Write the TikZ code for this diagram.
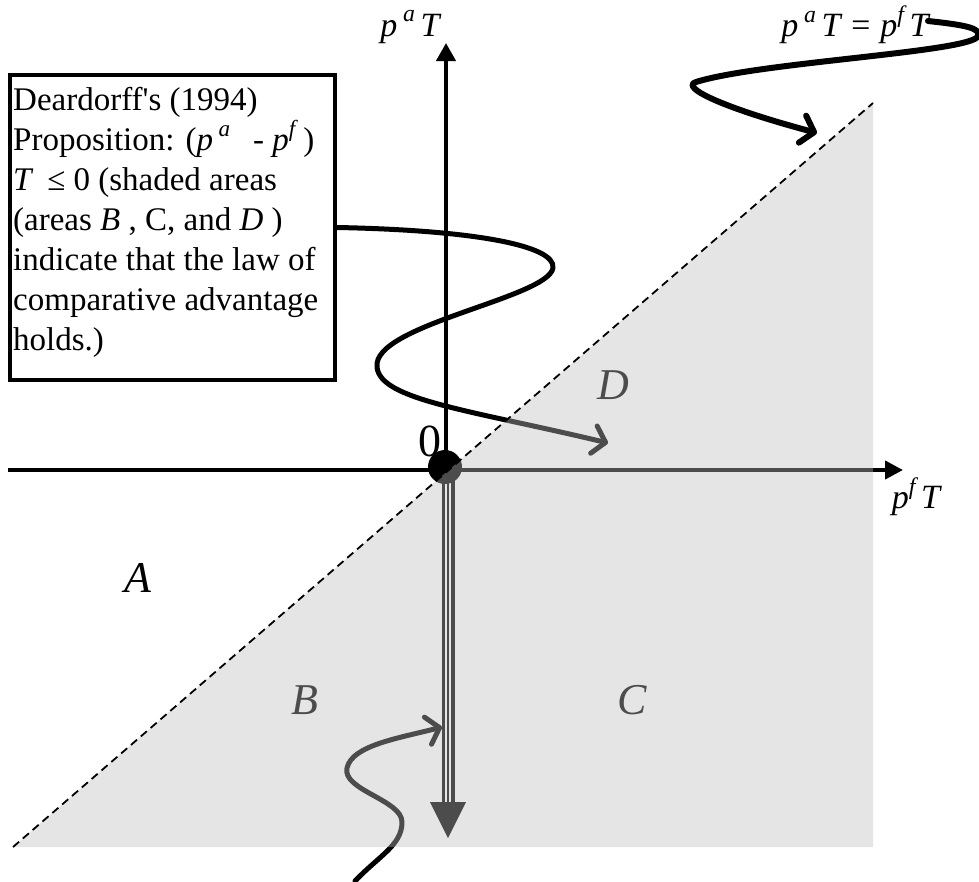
\documentclass[tikz,border=0pt]{standalone}
\usepackage{fontspec}
\usepackage{graphicx}
\setmainfont{Liberation Serif}[Ligatures=TeXOff]
\usetikzlibrary{arrows.meta}
\definecolor{shadecol}{gray}{0.75}
\newcommand\suprs[1]{\raisebox{0.42em}{\scalebox{0.7}{#1}}}
\begin{document}
\begin{tikzpicture}[x=1pt,y=-1pt,
  axis/.style={line width=4pt},
  curvy/.style={line width=5pt, line cap=round, line join=round,
    -{Straight Barb[length=12pt,width=28pt,line cap=round,line join=round]}},
  big/.style={font=\fontsize{44}{50}\selectfont\itshape, inner sep=0},
  lab/.style={font=\fontsize{34}{40}\selectfont\itshape, inner sep=0}]
\useasboundingbox (0,0) rectangle (979,881);

% coordinates
\coordinate (O) at (446,470);
\coordinate (xl) at (8,470);
\coordinate (xr) at (903,470);
\coordinate (yt) at (446,43);
\coordinate (dstart) at (448,470);
\coordinate (dhead) at (448,802);
\coordinate (dend) at (448,838);
\coordinate (dtip) at (608,443);
\coordinate (eqend) at (928,21);
\coordinate (etip) at (817,133);
\coordinate (bstart) at (355,881);
\coordinate (btip) at (442,727);
\coordinate (tl) at (13,847);
\coordinate (tr) at (873,103);
\coordinate (br) at (873,847);

% axes
\draw[axis, -{Triangle[length=18pt,width=18pt]}] (xl) -- (xr);
\draw[axis, -{Triangle[length=18pt,width=19pt]}] (O) -- (yt);

% triple downward arrow
\draw[line width=13pt] (dstart) -- (dhead);
\draw[line width=6.5pt, white] (dstart) -- (dhead);
\draw[line width=2.5pt] (dstart) -- (dhead);
\fill ([xshift=-18pt]dhead) -- ([xshift=18pt]dhead) -- (dend) -- cycle;

% text box
\node (box) [draw, line width=4pt, minimum width=325pt, minimum height=305pt] at (172.5,227.5) {};
\node (note) [anchor=north west, inner sep=0, align=left, font=\fontsize{33}{40}\selectfont] at (13,87)
 {Deardorff's (1994)\\
  Proposition: (\textit{p}\,\suprs{\textit{a}}\;\, - \textit{p}\suprs{\textit{f}}\,)\\
  \textit{T} \,≤ 0 (shaded areas\\
  (areas \textit{B} , C, and \textit{D} )\\
  indicate that the law of\\
  comparative advantage\\
  holds.)};

% labels
\node (ya) [lab] at (410,27) {p\,\suprs{a}\,T};
\node (eq) [lab] at (855,25) {p\,\suprs{a}\,T = p\suprs{f}\,T};
\node (xa) [lab] at (916,497) {p\suprs{f}\,T};
\node (zero) [font=\fontsize{46}{50}\selectfont, inner sep=0] at (430,441) {0};
\node (A) [big] at (138,578) {A};
\node (B) [big] at (305,700) {B};
\node (C) [big] at (632,700) {C};
\node (D) [big] at (613,385) {D};

% connectors
\draw[curvy] (box.east) .. controls (470,230) and (556,245) .. (553,268)
  .. controls (548,298) and (372,325) .. (377,367)
  .. controls (380,400) and (470,410) .. (dtip);
\draw[curvy, line width=6pt] (eqend) .. controls (965,25) and (981,28) .. (978,36)
  .. controls (973,52) and (760,62) .. (696,82)
  .. controls (680,87) and (720,107) .. (etip);
\draw[curvy] (bstart) .. controls (380,855) and (402,845) .. (402,822)
  .. controls (402,800) and (342,790) .. (347,768)
  .. controls (352,745) and (400,738) .. (btip);

% origin dot
\fill (445,467) circle (17);

% shaded region
\fill[shadecol, opacity=0.4] (tl) -- (br) -- (tr) -- cycle;
\draw[line width=1.8pt, dash pattern=on 8pt off 5pt] (tl) -- (tr);
\end{tikzpicture}
\end{document}
